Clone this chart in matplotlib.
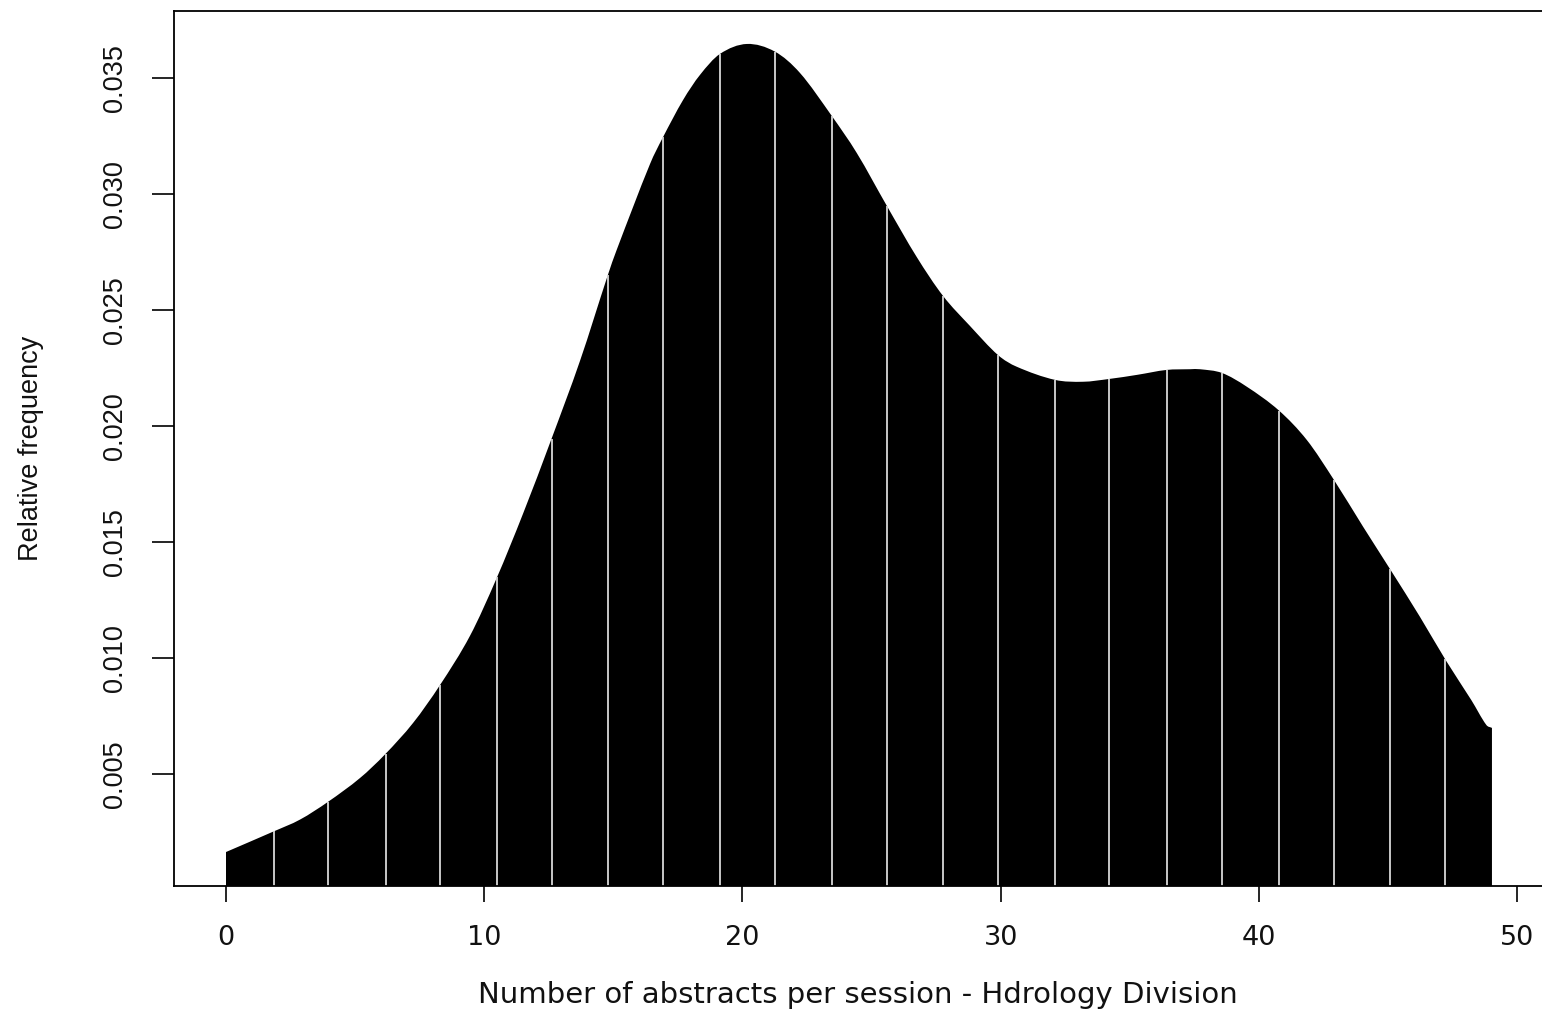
import numpy as np
import matplotlib
matplotlib.use("Agg")
import matplotlib.pyplot as plt
from matplotlib import font_manager as fm
from matplotlib.path import Path
from matplotlib.patches import PathPatch

# ---- data ----
dens_x = [0.0, 1.83, 2.87, 3.96, 5.19, 6.16, 7.25, 8.29, 9.45, 10.48, 11.51, 12.59,
          13.71, 14.78, 15.13, 16.42, 16.91, 17.70, 18.36, 19.13, 20.17, 21.26,
          22.23, 23.46, 24.43, 25.60, 26.75, 27.77, 28.81, 29.90, 30.62, 32.11,
          33.19, 34.20, 35.30, 36.43, 37.34, 37.72, 38.57, 39.53, 40.78, 41.86,
          42.91, 44.04, 45.12, 46.24, 47.25, 48.23, 48.81, 49.03]
dens_y = [0.00165, 0.00253, 0.00305, 0.00382, 0.00484, 0.00586, 0.00722, 0.00885,
          0.01097, 0.01345, 0.01625, 0.01941, 0.02282, 0.02649, 0.02760, 0.03130,
          0.03243, 0.03406, 0.03515, 0.03605, 0.03648, 0.03615, 0.03523, 0.03338,
          0.03178, 0.02949, 0.02730, 0.02562, 0.02433, 0.02307, 0.02257, 0.02200,
          0.02192, 0.02204, 0.02222, 0.02243, 0.02246, 0.02246, 0.02230, 0.02171,
          0.02068, 0.01941, 0.01769, 0.01567, 0.01378, 0.01179, 0.00990, 0.00820,
          0.00713, 0.00700]
line_x = [1.86, 3.95, 6.18, 8.29, 10.50, 12.61, 14.79, 16.92, 19.13, 21.26, 23.46,
          25.60, 27.77, 29.90, 32.11, 34.20, 36.45, 38.57, 40.78, 42.91, 45.08, 47.21]
xticks = [0, 10, 20, 30, 40, 50]
yticks = [0.005, 0.010, 0.015, 0.020, 0.025, 0.030, 0.035]
ytick_labels = ["0.005", "0.010", "0.015", "0.020", "0.025", "0.030", "0.035"]
xlabel = "Number of abstracts per session - Hdrology Division"
ylabel = "Relative frequency"


def has_font(name):
    try:
        fm.findfont(fm.FontProperties(family=name), fallback_to_default=False)
        return True
    except Exception:
        return False


if has_font("Liberation Sans Narrow"):
    yfont, ysize = "Liberation Sans Narrow", 23
else:
    yfont, ysize = "Liberation Sans", 19.5
xfont = "DejaVu Sans"

W, H = 1542, 1011
fig = plt.figure(figsize=(W / 100, H / 100), dpi=100)
ax_l, ax_r, ax_t, ax_b = 174, 1542, 11, 886
ax = fig.add_axes([ax_l / W, (H - ax_b) / H, (ax_r - ax_l) / W, (ax_b - ax_t) / H])

px_per_x = 25.82
x0_px = 226
ax.set_xlim((ax_l - x0_px) / px_per_x, (ax_r - x0_px) / px_per_x)
px_per_y = 23200
y0_px = 890.3
ax.set_ylim((y0_px - ax_b) / px_per_y, (y0_px - ax_t) / px_per_y)

dx = np.array(dens_x)
dy = np.array(dens_y)

# slopes at the read points (cubic Hermite rendering of the outline)
n = len(dx)
slope = np.empty(n)
slope[0] = (dy[1] - dy[0]) / (dx[1] - dx[0])
slope[-1] = (dy[-1] - dy[-2]) / (dx[-1] - dx[-2])
slope[1:-1] = (dy[2:] - dy[:-2]) / (dx[2:] - dx[:-2])

verts = [(dx[0], 0.0), (dx[0], dy[0])]
codes = [Path.MOVETO, Path.LINETO]
for i in range(n - 1):
    h = dx[i + 1] - dx[i]
    verts += [(dx[i] + h / 3, dy[i] + slope[i] * h / 3),
              (dx[i + 1] - h / 3, dy[i + 1] - slope[i + 1] * h / 3),
              (dx[i + 1], dy[i + 1])]
    codes += [Path.CURVE4] * 3
verts += [(dx[-1], 0.0), (dx[0], 0.0)]
codes += [Path.LINETO, Path.CLOSEPOLY]
ax.add_patch(PathPatch(Path(verts, codes), facecolor="black", edgecolor="none", zorder=1))


def outline_at(xq):
    out = []
    for xv in xq:
        i = int(np.clip(np.searchsorted(dx, xv) - 1, 0, n - 2))
        h = dx[i + 1] - dx[i]
        t = (xv - dx[i]) / h
        h00 = 2 * t**3 - 3 * t**2 + 1
        h10 = t**3 - 2 * t**2 + t
        h01 = -2 * t**3 + 3 * t**2
        h11 = t**3 - t**2
        out.append(h00 * dy[i] + h10 * h * slope[i] + h01 * dy[i + 1] + h11 * h * slope[i + 1])
    return np.array(out)


lx = np.array(line_x)
ax.vlines(lx, 0, outline_at(lx), colors="#d8d8d8", lw=1.3, zorder=2)

ax.spines["right"].set_visible(False)
for s in ["left", "top", "bottom"]:
    ax.spines[s].set_linewidth(1.3)
    ax.spines[s].set_color("black")
    ax.spines[s].set_zorder(3)

ax.set_xticks(xticks)
ax.set_xticklabels([str(v) for v in xticks], fontfamily=xfont, fontsize=19.5, color="#111111")
ax.tick_params(axis="x", length=11.5, width=1.2, pad=16.5, direction="out")

ax.set_yticks(yticks)
ax.set_yticklabels(ytick_labels, fontfamily=yfont, fontsize=ysize, color="#111111",
                   rotation=90, va="center", ha="right")
ax.tick_params(axis="y", length=15.8, width=1.2, pad=17.3, direction="out")

ax.set_xlabel(xlabel, fontfamily=xfont, fontsize=21, color="#111111", va="center")
ax.xaxis.set_label_coords(0.5, (ax_b - 995) / (ax_b - ax_t))
ax.set_ylabel(ylabel, fontfamily=yfont, fontsize=ysize, color="#111111", va="center")
ax.yaxis.set_label_coords((31 - ax_l) / (ax_r - ax_l), 0.5)

fig.savefig("out.png", dpi=100, facecolor="white")
